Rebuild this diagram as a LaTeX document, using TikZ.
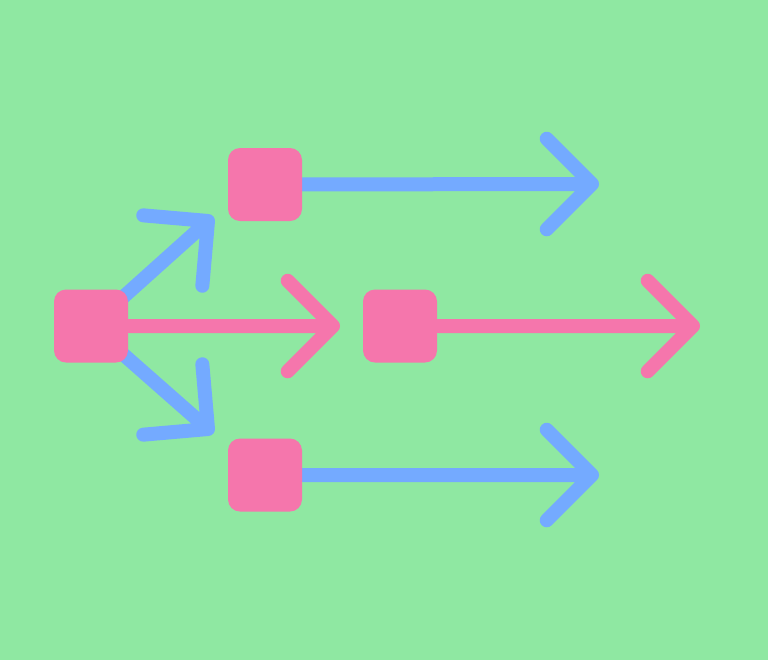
\documentclass[tikz,border=0pt]{standalone}
\usepackage{xcolor}
\usepackage{tikz}
\usetikzlibrary{positioning, calc, backgrounds}

\definecolor{fundo}{HTML}{8FE8A2}
\definecolor{rosa}{HTML}{F576AC}
\definecolor{azul}{HTML}{74AAFF}

\begin{document}
\begin{tikzpicture}[bloco/.style={fill=rosa, rounded corners=0.12cm, minimum width=0.74cm, minimum height=0.73cm, inner sep=0pt}, seta/.style={line width=0.14cm, line cap=round, line join=round} ]
		\useasboundingbox (0,0) rectangle (7.68,6.6);
		\node[bloco]	(L) at (0.91,3.34)	{};
		\node[bloco]	(T) at (2.65,4.755)	{};
		\node[bloco]	(M) at (4.00,3.34)	{};
		\node[bloco]	(B) at (2.65,1.85)	{};
		\coordinate (tT) at (5.92,4.76);
		\coordinate (tB) at (5.92,1.85);
		\coordinate (tL) at (3.33,3.34);
		\coordinate (tM) at (6.93,3.34);
		\coordinate (tU) at (2.08,4.39);
		\coordinate (tD) at (2.08,2.31);
		
		\begin{scope}[on background layer]
		\fill[fundo] (0,0) rectangle (7.68,6.6);
		%Setas: (origem) -- (ponta) e as duas abas
		\draw[seta, azul] (T) -- (tT) +(135:0.64) -- (tT) -- +(225:0.64);
		\draw[seta, azul] (B) -- (tB) +(135:0.64) -- (tB) -- +(225:0.64);
		\draw[seta, rosa] (L) -- (tL) +(135:0.64) -- (tL) -- +(225:0.64);
		\draw[seta, rosa] (M) -- (tM) +(135:0.64) -- (tM) -- +(225:0.64);
		\draw[seta, azul] (L.center) -- (tU) +(175:0.65) -- (tU) -- +(265:0.65);
		\draw[seta, azul] (L.center) -- (tD) +(185:0.65) -- (tD) -- +(95:0.65);
		\end{scope}
	\end{tikzpicture}
\end{document}
